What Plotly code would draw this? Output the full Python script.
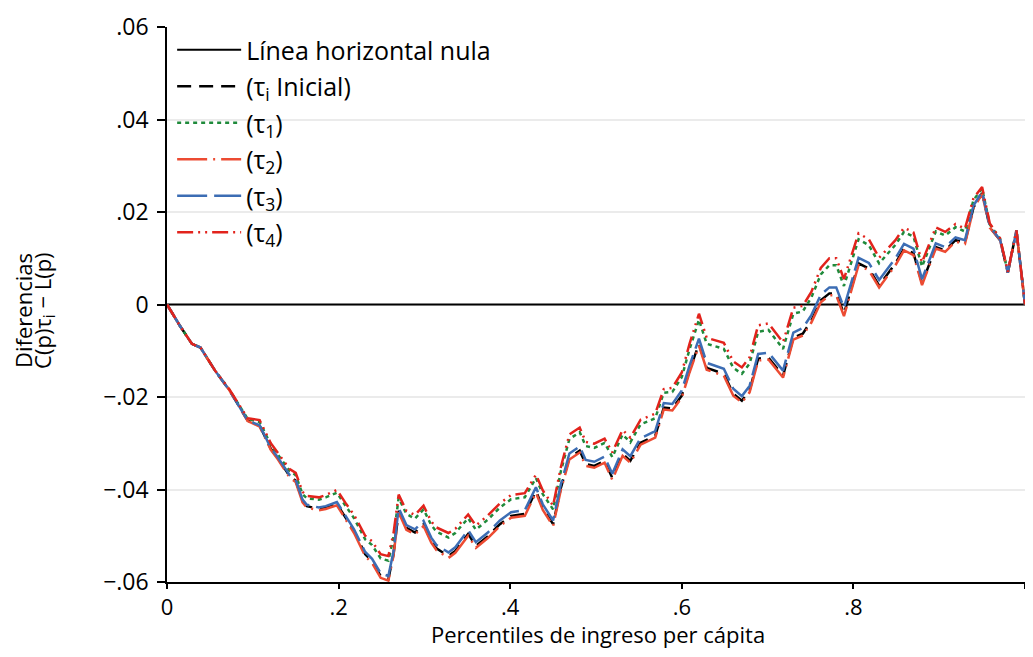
import plotly.graph_objects as go

# Percentiles (x)
p = [0.000, 0.015, 0.029, 0.039, 0.056, 0.073, 0.094, 0.108, 0.121, 0.129,
     0.143, 0.150, 0.158, 0.163, 0.177, 0.185, 0.198, 0.208, 0.218, 0.231,
     0.239, 0.249, 0.258, 0.264, 0.270, 0.279, 0.289, 0.299, 0.308, 0.314,
     0.328, 0.336, 0.351, 0.360, 0.374, 0.388, 0.401, 0.417, 0.430, 0.438,
     0.450, 0.459, 0.469, 0.481, 0.488, 0.498, 0.510, 0.519, 0.531, 0.540,
     0.552, 0.569, 0.579, 0.589, 0.600, 0.609, 0.620, 0.629, 0.649, 0.660,
     0.670, 0.679, 0.689, 0.701, 0.710, 0.718, 0.730, 0.741, 0.751, 0.762,
     0.772, 0.780, 0.789, 0.806, 0.818, 0.830, 0.849, 0.859, 0.870, 0.880,
     0.896, 0.907, 0.919, 0.930, 0.940, 0.950, 0.959, 0.971, 0.980, 0.990,
     1.000]

cero = [0.0, 0.0]
cero_x = [0.0, 1.0]

tau_inicial = [0.0000, -0.0046, -0.0085, -0.0093, -0.0143, -0.0186, -0.0251, -0.0262, -0.0312, -0.0332,
               -0.0371, -0.0381, -0.0425, -0.0436, -0.0442, -0.0439, -0.0431, -0.0461, -0.0490, -0.0540,
               -0.0555, -0.0587, -0.0594, -0.0540, -0.0446, -0.0483, -0.0493, -0.0475, -0.0511, -0.0527,
               -0.0544, -0.0533, -0.0496, -0.0522, -0.0501, -0.0475, -0.0457, -0.0453, -0.0403, -0.0440,
               -0.0475, -0.0397, -0.0331, -0.0316, -0.0345, -0.0349, -0.0338, -0.0375, -0.0323, -0.0338,
               -0.0299, -0.0284, -0.0223, -0.0225, -0.0197, -0.0143, -0.0085, -0.0137, -0.0150, -0.0193,
               -0.0208, -0.0186, -0.0117, -0.0115, -0.0137, -0.0154, -0.0072, -0.0063, -0.0035, 0.0009,
               0.0024, 0.0024, -0.0020, 0.0089, 0.0078, 0.0041, 0.0089, 0.0121, 0.0111, 0.0046,
               0.0124, 0.0117, 0.0139, 0.0134, 0.0210, 0.0241, 0.0167, 0.0139, 0.0069, 0.0160,
               0.0000]

tau_1 = [0.0000, -0.0046, -0.0085, -0.0093, -0.0143, -0.0185, -0.0247, -0.0254, -0.0303, -0.0323,
         -0.0360, -0.0369, -0.0410, -0.0419, -0.0422, -0.0417, -0.0407, -0.0435, -0.0462, -0.0508,
         -0.0520, -0.0549, -0.0554, -0.0504, -0.0418, -0.0453, -0.0463, -0.0443, -0.0477, -0.0491,
         -0.0504, -0.0494, -0.0462, -0.0487, -0.0465, -0.0439, -0.0421, -0.0417, -0.0375, -0.0410,
         -0.0443, -0.0361, -0.0291, -0.0276, -0.0306, -0.0310, -0.0299, -0.0330, -0.0281, -0.0298,
         -0.0259, -0.0246, -0.0191, -0.0189, -0.0157, -0.0097, -0.0033, -0.0085, -0.0096, -0.0137,
         -0.0150, -0.0128, -0.0059, -0.0055, -0.0077, -0.0096, -0.0020, -0.0015, 0.0015, 0.0065,
         0.0085, 0.0085, 0.0040, 0.0141, 0.0128, 0.0089, 0.0129, 0.0157, 0.0147, 0.0082,
         0.0158, 0.0149, 0.0167, 0.0158, 0.0226, 0.0251, 0.0173, 0.0142, 0.0070, 0.0160,
         0.0000]

tau_2 = [0.0000, -0.0046, -0.0085, -0.0093, -0.0143, -0.0186, -0.0252, -0.0264, -0.0314, -0.0334,
         -0.0374, -0.0384, -0.0428, -0.0439, -0.0445, -0.0442, -0.0434, -0.0464, -0.0494, -0.0544,
         -0.0559, -0.0591, -0.0597, -0.0543, -0.0449, -0.0487, -0.0497, -0.0479, -0.0515, -0.0531,
         -0.0548, -0.0537, -0.0500, -0.0526, -0.0505, -0.0479, -0.0461, -0.0457, -0.0407, -0.0444,
         -0.0479, -0.0401, -0.0335, -0.0320, -0.0349, -0.0353, -0.0342, -0.0379, -0.0327, -0.0342,
         -0.0303, -0.0288, -0.0227, -0.0229, -0.0201, -0.0147, -0.0089, -0.0141, -0.0154, -0.0197,
         -0.0212, -0.0190, -0.0121, -0.0119, -0.0141, -0.0158, -0.0076, -0.0067, -0.0039, 0.0005,
         0.0020, 0.0020, -0.0025, 0.0085, 0.0074, 0.0037, 0.0085, 0.0117, 0.0107, 0.0042,
         0.0121, 0.0114, 0.0136, 0.0131, 0.0208, 0.0239, 0.0166, 0.0139, 0.0069, 0.0160,
         0.0000]

tau_3 = [0.0000, -0.0046, -0.0085, -0.0093, -0.0143, -0.0186, -0.0251, -0.0261, -0.0310, -0.0330,
         -0.0369, -0.0379, -0.0422, -0.0433, -0.0439, -0.0436, -0.0427, -0.0457, -0.0486, -0.0535,
         -0.0550, -0.0581, -0.0587, -0.0534, -0.0440, -0.0477, -0.0486, -0.0468, -0.0504, -0.0520,
         -0.0536, -0.0525, -0.0488, -0.0514, -0.0493, -0.0467, -0.0449, -0.0445, -0.0395, -0.0432,
         -0.0467, -0.0389, -0.0322, -0.0307, -0.0336, -0.0340, -0.0329, -0.0366, -0.0313, -0.0328,
         -0.0289, -0.0274, -0.0213, -0.0215, -0.0186, -0.0132, -0.0074, -0.0126, -0.0139, -0.0182,
         -0.0198, -0.0176, -0.0107, -0.0104, -0.0126, -0.0143, -0.0061, -0.0051, -0.0023, 0.0021,
         0.0037, 0.0037, -0.0007, 0.0101, 0.0090, 0.0053, 0.0100, 0.0131, 0.0121, 0.0055,
         0.0132, 0.0124, 0.0145, 0.0139, 0.0214, 0.0244, 0.0169, 0.0140, 0.0069, 0.0160,
         0.0000]

tau_4 = [0.0000, -0.0046, -0.0085, -0.0093, -0.0143, -0.0184, -0.0246, -0.0250, -0.0300, -0.0320,
         -0.0356, -0.0364, -0.0405, -0.0414, -0.0417, -0.0412, -0.0401, -0.0429, -0.0455, -0.0500,
         -0.0512, -0.0540, -0.0544, -0.0495, -0.0411, -0.0446, -0.0455, -0.0435, -0.0469, -0.0482,
         -0.0494, -0.0485, -0.0454, -0.0478, -0.0456, -0.0430, -0.0412, -0.0408, -0.0368, -0.0402,
         -0.0435, -0.0352, -0.0281, -0.0266, -0.0297, -0.0301, -0.0290, -0.0320, -0.0271, -0.0288,
         -0.0249, -0.0236, -0.0183, -0.0180, -0.0147, -0.0085, -0.0020, -0.0072, -0.0083, -0.0123,
         -0.0136, -0.0114, -0.0045, -0.0041, -0.0063, -0.0082, -0.0007, -0.0003, 0.0027, 0.0079,
         0.0100, 0.0100, 0.0055, 0.0154, 0.0141, 0.0101, 0.0139, 0.0166, 0.0156, 0.0091,
         0.0167, 0.0157, 0.0174, 0.0164, 0.0230, 0.0254, 0.0175, 0.0143, 0.0071, 0.0160,
         0.0000]

y_tickvals = [0.06, 0.04, 0.02, 0.0, -0.02, -0.04, -0.06]
y_ticktext = [".06", ".04", ".02", "0", "\u2212.02", "\u2212.04", "\u2212.06"]
x_tickvals = [0, 0.2, 0.4, 0.6, 0.8, 1.0]
x_ticktext = ["0", ".2", ".4", ".6", ".8", "1"]

FONT = "Open Sans"

fig = go.Figure()
fig.add_trace(go.Scatter(x=cero_x, y=cero, mode="lines", name="Línea horizontal nula",
                         line=dict(color="black", width=2), legendgroup="a"))
fig.add_trace(go.Scatter(x=p, y=tau_inicial, mode="lines", name="(τ<sub>i</sub> Inicial)",
                         line=dict(color="black", width=2.5, dash="14px,8px"), legendgroup="b"))
fig.add_trace(go.Scatter(x=p, y=tau_1, mode="lines", name="(τ<sub>1</sub>)",
                         line=dict(color="#1F8A3B", width=2.5, dash="4px,4px"), legendgroup="c"))
fig.add_trace(go.Scatter(x=p, y=tau_2, mode="lines", name="(τ<sub>2</sub>)",
                         line=dict(color="#EC4B32", width=2.5, dash="30px,6px,2px,6px"), legendgroup="d"))
fig.add_trace(go.Scatter(x=p, y=tau_3, mode="lines", name="(τ<sub>3</sub>)",
                         line=dict(color="#3C6DB4", width=2.5, dash="30px,7px"), legendgroup="e"))
fig.add_trace(go.Scatter(x=p, y=tau_4, mode="lines", name="(τ<sub>4</sub>)",
                         line=dict(color="#E2231C", width=2.5, dash="16px,5px,2px,5px,2px,5px"), legendgroup="f"))

# The page body adds an 8px offset on every side, so the figure is sized to fit inside it.
fig.update_layout(
    width=1017, height=641,
    margin=dict(l=159, r=0, t=19, b=67, autoexpand=False),
    paper_bgcolor="white", plot_bgcolor="white",
    font=dict(family=FONT, size=23, color="black"),
    showlegend=True,
    legend=dict(x=0.006, y=1.0, xanchor="left", yanchor="top",
                bgcolor="rgba(0,0,0,0)", borderwidth=0,
                font=dict(family=FONT, size=25, color="black"),
                tracegroupgap=1, itemwidth=64),
    xaxis=dict(range=[0, 1], tickvals=x_tickvals, ticktext=x_ticktext, automargin=False,
               showgrid=False, zeroline=False, showline=True, linecolor="black", linewidth=1.5,
               ticks="outside", ticklen=5, tickwidth=1.5, tickcolor="black",
               tickfont=dict(family=FONT, size=22)),
    yaxis=dict(range=[-0.06, 0.06], tickvals=y_tickvals, ticktext=y_ticktext, automargin=False,
               showgrid=True, gridcolor="#EBEBEB", gridwidth=1.5,
               zeroline=False, showline=True, linecolor="black", linewidth=1.5,
               ticks="outside", ticklen=8, tickwidth=1.5, tickcolor="black",
               tickfont=dict(family=FONT, size=23), ticklabelstandoff=4),
    annotations=[
        dict(text="Percentiles de ingreso per cápita", xref="paper", yref="paper", x=0.502, y=-0.0937,
             xanchor="center", yanchor="middle", showarrow=False,
             font=dict(family=FONT, size=22)),
        dict(text="Diferencias", xref="paper", yref="paper", x=-0.168, y=0.49,
             xanchor="center", yanchor="middle", textangle=-90, showarrow=False,
             font=dict(family=FONT, size=22)),
        dict(text="C(p)τ<sub>i</sub> − L(p)", xref="paper", yref="paper", x=-0.1435, y=0.49,
             xanchor="center", yanchor="middle", textangle=-90, showarrow=False,
             font=dict(family=FONT, size=22)),
    ],
)

fig.write_html("out.html")
